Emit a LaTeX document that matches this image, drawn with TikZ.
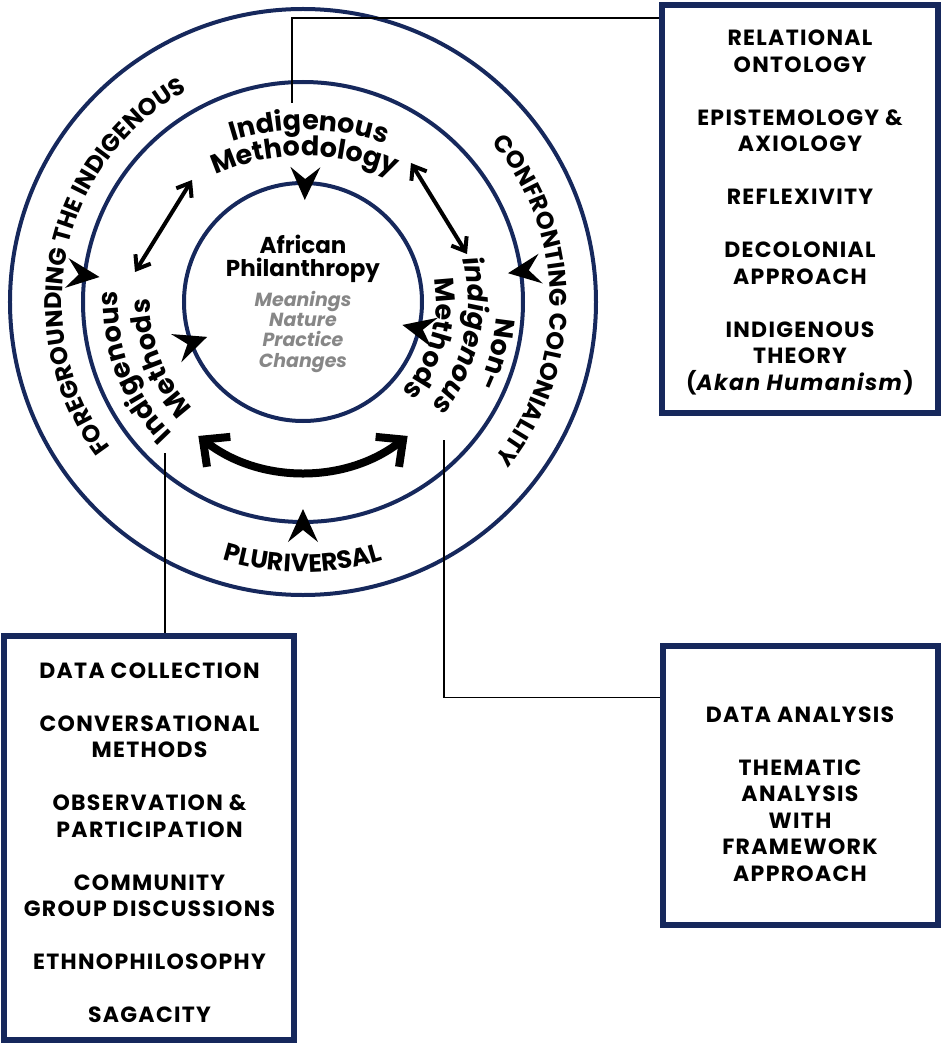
\documentclass[tikz,border=0pt]{standalone}
\usepackage{fontspec}
\setmainfont{Poppins}
\usepackage{xcolor}
\usepackage{tikz}
\usetikzlibrary{positioning,calc,arrows.meta,decorations.text}

\definecolor{ringnavy}{RGB}{22,40,92}
\definecolor{softgrey}{RGB}{135,135,135}

\newcommand{\ringfont}{\fontsize{24}{24}\selectfont\bfseries}
\newcommand{\bandfont}{\fontsize{25}{25}\selectfont\bfseries}
\newcommand{\labelfont}{\fontsize{27}{27}\selectfont\bfseries}
\newcommand{\listfont}{\fontsize{22}{26.5}\selectfont\bfseries\addfontfeatures{LetterSpace=6}}

\tikzset{
  ring/.style={draw=ringnavy, line width=4pt},
  panel/.style={draw=ringnavy, line width=6pt, inner sep=0pt},
  listtext/.style={align=center, anchor=north, inner sep=0pt, font=\listfont},
  link/.style={draw=black, line width=1.8pt},
  twoway/.style={line width=4pt, {Straight Barb[length=12pt,width=18pt]}-{Straight Barb[length=12pt,width=18pt]}},
  bigway/.style={line width=8pt, {Straight Barb[length=20pt,width=38pt]}-{Straight Barb[length=20pt,width=38pt]}},
  curvetext/.style={decorate, decoration={text along path, text align=center, text={#1}}},
  startip/.pic={\fill[black] (17,0) -- (-16,15) -- (-4,0) -- (-16,-15) -- cycle;}
}

\begin{document}
\begin{tikzpicture}[x=1pt,y=1pt]
    \useasboundingbox (-303,302) rectangle (640,-742);

    % Rings
    \draw[ring] (0,0) circle (293);
    \draw[ring] (0,0) circle (220);
    \draw[ring] (0,0) circle (119);

    % Outer ring texts
    \path[curvetext={|\ringfont|FOREGROUNDING THE INDIGENOUS}]
        (238:241) arc[start angle=238, end angle=98, radius=241];
    \path[curvetext={|\ringfont|CONFRONTING COLONIALITY}]
        (60.5:247) arc[start angle=60.5, end angle=-59.5, radius=247];
    \path[curvetext={|\bandfont|PLURIVERSAL}]
        (230:270) arc[start angle=230, end angle=310, radius=270];

    % Middle ring labels
    \path[curvetext={|\labelfont|Indigenous}]
        ([shift={(2,-70)}]130:242) arc[start angle=130, end angle=48, radius=242];
    \path[curvetext={|\labelfont|Methodology}]
        ([shift={(2,-70)}]135:216) arc[start angle=135, end angle=45, radius=216];
    \path[curvetext={|\labelfont|Indigenous}]
        (250:185) arc[start angle=250, end angle=152, radius=185];
    \path[curvetext={|\labelfont|Methods}]
        (250:153) arc[start angle=250, end angle=153, radius=153];
    \path[curvetext={|\labelfont|Non-}]
        (20:194) arc[start angle=20, end angle=-50, radius=194];
    \path[curvetext={|\labelfont\itshape|indigenous}]
        (30:165) arc[start angle=30, end angle=-54, radius=165];
    \path[curvetext={|\labelfont|Methods}]
        (30:133) arc[start angle=30, end angle=-62, radius=133];

    % Centre
    \node (phil) [font=\fontsize{23}{23}\selectfont\bfseries, align=center,
        anchor=north, inner sep=0pt] at (0,67) {African\\Philanthropy};
    \node (facets) [font=\fontsize{19}{20.3}\selectfont\bfseries\itshape, align=center,
        anchor=north, inner sep=0pt, text=softgrey, below=8pt of phil] {Meanings\\Nature\\Practice\\Changes};

    % Star tips
    \pic[rotate=269] at (89:119) {startip};
    \pic[rotate=20] at (200:119) {startip};
    \pic[rotate=167] at (347:119) {startip};
    \pic[rotate=-7] at (173:222) {startip};
    \pic[rotate=188] at (8:224) {startip};
    \pic[rotate=90] at (270:224) {startip};

    % Two-way arrows
    \coordinate (imA) at (-168,30);
    \coordinate (imB) at (-111,122);
    \coordinate (nmA) at (108,139);
    \coordinate (nmB) at (164,48);
    \coordinate (bwL) at (232:170);
    \draw[twoway] (imA) -- (imB);
    \draw[twoway] (nmA) -- (nmB);
    \draw[bigway] (bwL) arc[start angle=232, end angle=308, radius=170];

    % Panels
    \node (theory) [panel, minimum width=276pt, minimum height=408pt] at (497,93) {};
    \node (theorytxt) [listtext, below=28pt of theory.north]
        {RELATIONAL\\ONTOLOGY\\[26.5pt]EPISTEMOLOGY \&\\AXIOLOGY\\[26.5pt]REFLEXIVITY\\[26.5pt]DECOLONIAL\\APPROACH\\[26.5pt]INDIGENOUS\\THEORY\\(\textit{Akan Humanism})};

    \node (collect) [panel, minimum width=290pt, minimum height=404pt] at (-153.5,-535.5) {};
    \node (collecttxt) [listtext, below=30pt of collect.north]
        {DATA COLLECTION\\[26.5pt]CONVERSATIONAL\\METHODS\\[26.5pt]OBSERVATION \&\\PARTICIPATION\\[26.5pt]COMMUNITY\\GROUP DISCUSSIONS\\[26.5pt]ETHNOPHILOSOPHY\\[26.5pt]SAGACITY};

    \node (analysis) [panel, minimum width=275pt, minimum height=279pt] at (497,-483) {};
    \node (analysistxt) [listtext, below=64pt of analysis.north]
        {DATA ANALYSIS\\[26.5pt]THEMATIC\\ANALYSIS\\WITH\\FRAMEWORK\\APPROACH};

    % Connectors
    \coordinate (methtop) at (-11,199);
    \coordinate (methleft) at (-138,-151);
    \coordinate (methright) at (141,-138);
    \draw[link] (methtop) |- ([yshift=-16pt]theory.north west);
    \draw[link] (methleft) -- (methleft |- collect.north);
    \draw[link] (methright) |- ([yshift=-55pt]analysis.north west);
\end{tikzpicture}
\end{document}
